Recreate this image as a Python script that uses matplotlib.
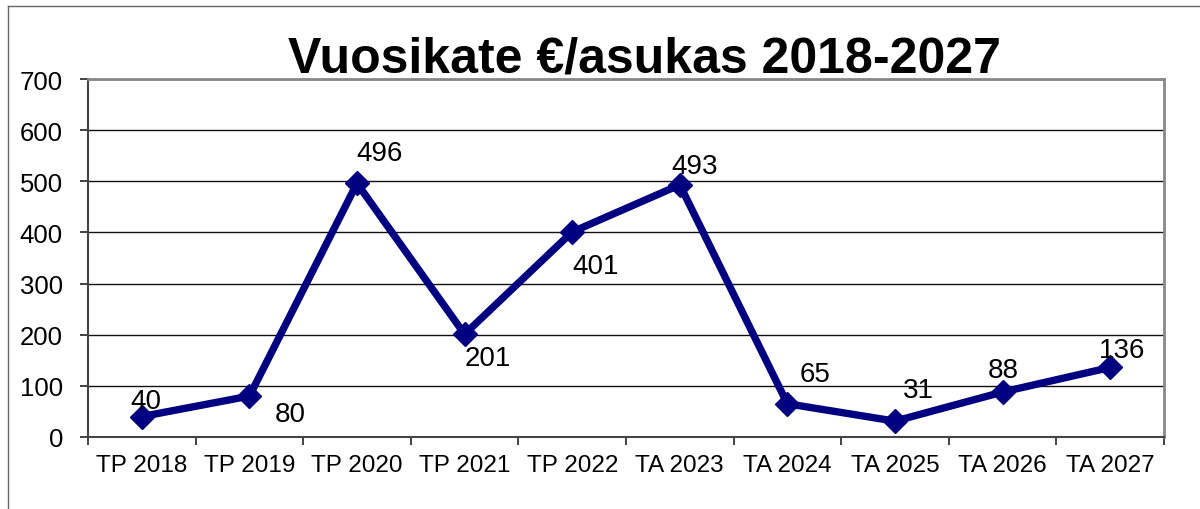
import matplotlib
matplotlib.use("Agg")
import matplotlib.pyplot as plt
from matplotlib.lines import Line2D
import numpy as np

categories = ["TP 2018", "TP 2019", "TP 2020", "TP 2021", "TP 2022",
              "TA 2023", "TA 2024", "TA 2025", "TA 2026", "TA 2027"]
values = [40, 80, 496, 201, 401, 493, 65, 31, 88, 136]
label_offsets = [(4, 16), (41, -18), (23, 30), (23, -24), (23, -34),
                 (15, 19), (28, 30), (23, 31), (1, 22), (12, 17)]
title = "Vuosikate €/asukas 2018-2027"

plt.rcParams['font.family'] = ['Liberation Sans', 'DejaVu Sans']

fig = plt.figure(figsize=(12, 5.1), dpi=100)
ax = fig.add_axes([88/1200, 1-438/510, (1164-88)/1200, (438-80)/510])

x = np.arange(len(categories))
ax.plot(x, values, color="#000080", lw=5.3, marker="D", ms=12.5,
        markerfacecolor="#000080", markeredgecolor="#000080", zorder=3, solid_joinstyle="miter")

for xi, v, (dx, dy) in zip(x, values, label_offsets):
    ax.annotate(str(v), (xi, v), xytext=(dx*0.72, dy*0.72), textcoords="offset points",
                ha="center", va="center", fontsize=20, color="black", zorder=4)

ax.set_xlim(-0.5, len(categories)-0.5)
ax.set_ylim(0, 700)
ax.set_yticks(np.arange(0, 701, 100))
ax.set_xticks(x)
ax.set_xticklabels(categories)
ax.set_xticks(np.arange(-0.5, len(categories), 1), minor=True)
ax.tick_params(axis="x", which="major", length=0, pad=12, labelsize=17.5)
ax.tick_params(axis="x", which="minor", length=6, width=1.2, color="#222222", direction="out")
ax.tick_params(axis="y", length=6, width=1.2, color="#222222", pad=12, labelsize=18.5)
ax.yaxis.grid(True, color="#111111", lw=1)
ax.set_axisbelow(True)
for s in ["left", "bottom"]:
    ax.spines[s].set_color("#444444")
    ax.spines[s].set_linewidth(1.5)
for s in ["top", "right"]:
    ax.spines[s].set_color("#888888")
    ax.spines[s].set_linewidth(2)

fig.text(644/1200, 1-60/510, title, ha="center", va="center", fontsize=36, fontweight="bold")

fig.add_artist(Line2D([8/1200, 8/1200], [0, 1-7/510], transform=fig.transFigure, color="#666666", lw=1))
fig.add_artist(Line2D([8/1200, 1], [1-7/510, 1-7/510], transform=fig.transFigure, color="#666666", lw=1))

fig.savefig("out.png", dpi=100, facecolor="white")
